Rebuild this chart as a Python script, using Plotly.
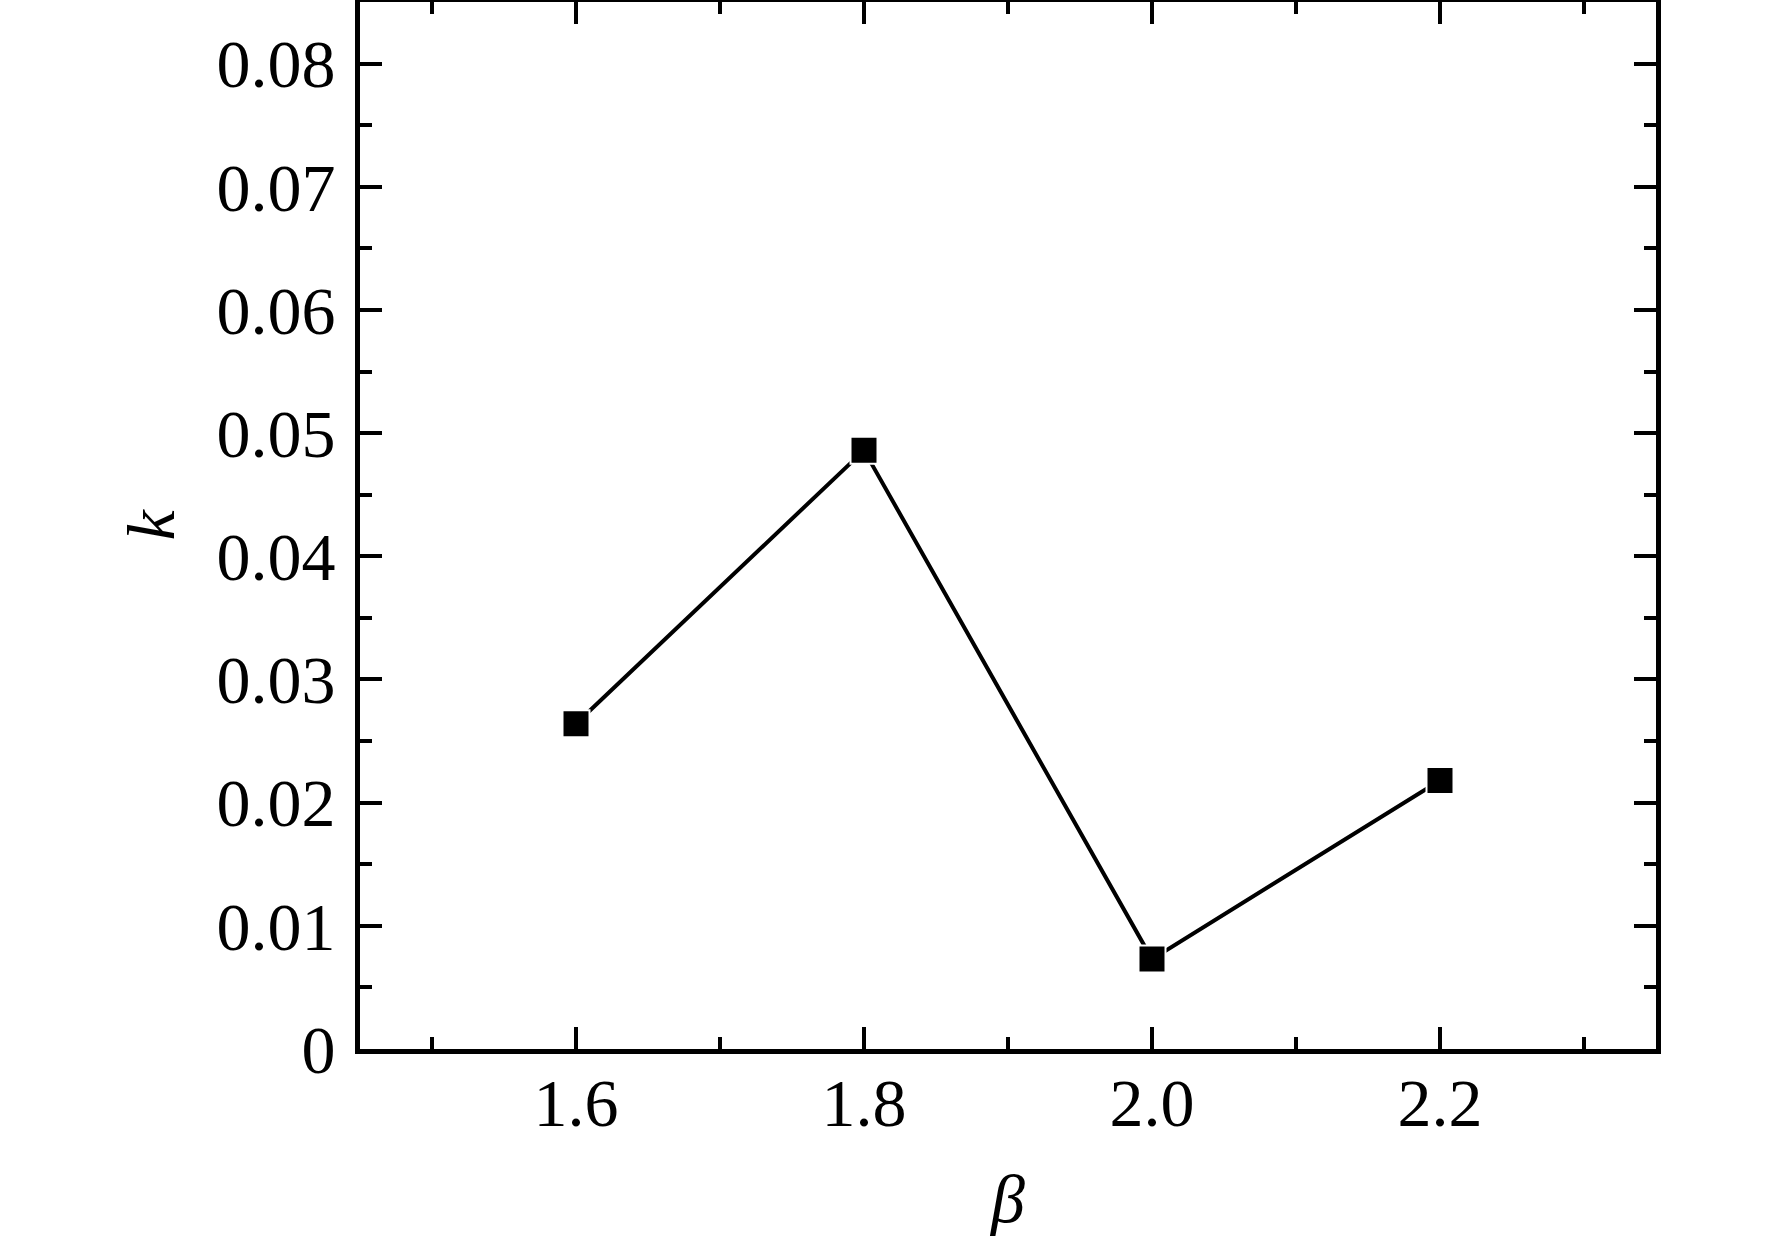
"""k en fonction de beta : courbe simple avec marqueurs carrés."""

import plotly.graph_objects as go

beta = [1.6, 1.8, 2.0, 2.2]
k_values = [0.0264, 0.0486, 0.0073, 0.0218]

x_ticks = [1.6, 1.8, 2.0, 2.2]
x_tick_labels = ["1.6", "1.8", "2.0", "2.2"]
y_ticks = [0, 0.01, 0.02, 0.03, 0.04, 0.05, 0.06, 0.07, 0.08]
y_tick_labels = ["0", "0.01", "0.02", "0.03", "0.04", "0.05", "0.06", "0.07", "0.08"]

FONT = "Liberation Serif, Times New Roman, serif"

_AXIS_STYLE = dict(
    showline=True,
    linecolor="black",
    linewidth=5,
    mirror="ticks",
    showgrid=False,
    zeroline=False,
    automargin=False,
    ticks="inside",
    ticklen=22,
    tickwidth=4,
    tickcolor="black",
    tickfont=dict(family=FONT, size=68, color="black"),
    title_font=dict(family=FONT, size=68, color="black"),
)

fig = go.Figure(
    go.Scatter(
        x=beta,
        y=k_values,
        mode="lines+markers",
        line=dict(color="black", width=4),
        marker=dict(symbol="square", size=27, color="black", line=dict(color="white", width=2)),
        showlegend=False,
    )
)

fig.update_layout(
    width=1772,
    height=1242,
    margin=dict(l=360, r=116, t=2, b=193),
    paper_bgcolor="white",
    plot_bgcolor="white",
)

fig.update_xaxes(
    **_AXIS_STYLE,
    range=[1.45, 2.35],
    tickmode="array",
    tickvals=x_ticks,
    ticktext=x_tick_labels,
    minor=dict(ticks="inside", ticklen=12, tickwidth=4, tickcolor="black", dtick=0.1, tick0=1.5),
    ticklabelstandoff=-10,
    title=dict(text="<i>β</i>", standoff=36),
)
fig.update_yaxes(
    **_AXIS_STYLE,
    range=[0, 0.085],
    tickmode="array",
    tickvals=y_ticks,
    ticktext=y_tick_labels,
    minor=dict(ticks="inside", ticklen=12, tickwidth=4, tickcolor="black", dtick=0.005, tick0=0.005),
    ticklabelstandoff=6,
    title=dict(text="<i>k</i>", standoff=21),
)

# marge par défaut du <body> : la retirer pour caler la figure sur la fenêtre
fig.write_html(
    "out.html",
    config={"displayModeBar": False},
    post_script="document.body.style.margin = '0';",
)
